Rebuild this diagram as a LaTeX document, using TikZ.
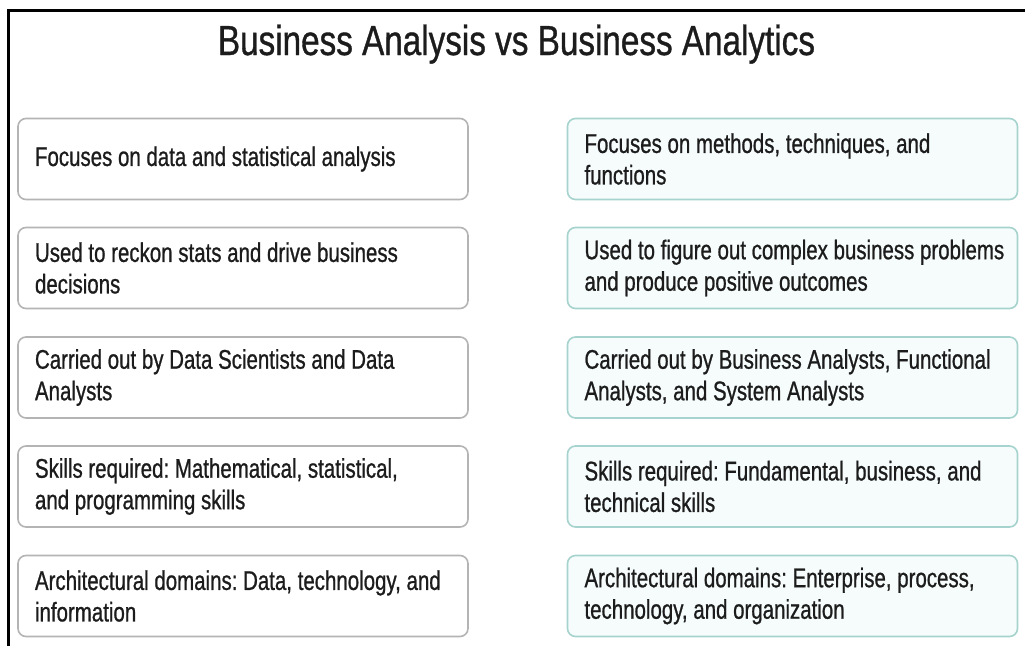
\documentclass[tikz,border=0pt]{standalone}
\usepackage{fontspec}
\setmainfont{Liberation Sans}
\newfontfamily\bodyfont[FakeStretch=0.758,FakeBold=0.8]{Liberation Sans}
\newfontfamily\titlefont[FakeStretch=0.792,FakeBold=0.8]{Liberation Sans}
\definecolor{leftborder}{HTML}{B4B4B4}
\definecolor{rightborder}{HTML}{A6D3CE}
\definecolor{rightfill}{HTML}{F6FCFC}
\definecolor{txt}{HTML}{1C1C1C}
\newcommand{\oneln}[1]{\mbox{\spaceskip=0pt\xspaceskip=0pt\frenchspacing #1}}
\newcommand{\lns}[2]{\oneln{#1}\\\oneln{#2}}
\tikzset{
  cell/.style={rounded corners=8pt, line width=1.6pt, minimum height=81pt,
    text width=416pt, inner xsep=17pt, inner ysep=4pt, align=left,
    text=txt, font=\bodyfont\fontsize{27}{31.5}\selectfont},
  lcell/.style={cell, draw=leftborder, fill=white},
  rcell/.style={cell, draw=rightborder, fill=rightfill},
  frameline/.style={line width=3pt, black}
}
\begin{document}
\begin{tikzpicture}[x=1pt,y=-1pt]
\useasboundingbox (0,0) rectangle (1025,646);
\fill[white] (0,0) rectangle (1025,646);
\coordinate (fa) at (8.5,646);
\coordinate (fb) at (8.5,10);
\coordinate (fc) at (1025,10);
\draw[frameline] (fa) -- (fb) -- (fc);
\node[anchor=base, text=txt, font=\titlefont\fontsize{42}{48}\selectfont, inner sep=0pt] (title) at (516.5,55) {Business Analysis vs Business Analytics};
% left column
\node[lcell] (l1) at (243,159) {\oneln{Focuses on data and statistical analysis}};
\node[lcell] (l2) at (243,268) {\lns{Used to reckon stats and drive business}{decisions}};
\node[lcell] (l3) at (243,377.5) {\lns{Carried out by Data Scientists and Data}{Analysts}};
\node[lcell] (l4) at (243,486.5) {\lns{Skills required: Mathematical, statistical,}{and programming skills}};
\node[lcell] (l5) at (243,596) {\lns{Architectural domains: Data, technology, and}{information}};
% right column
\node[rcell] (r1) at (792.5,159) {\lns{Focuses on methods, techniques, and}{functions}};
\node[rcell] (r2) at (792.5,268) {\lns{Used to figure out complex business problems}{and produce positive outcomes}};
\node[rcell] (r3) at (792.5,377.5) {\lns{Carried out by Business Analysts, Functional}{Analysts, and System Analysts}};
\node[rcell] (r4) at (792.5,486.5) {\lns{Skills required: Fundamental, business, and}{technical skills}};
\node[rcell] (r5) at (792.5,596) {\lns{Architectural domains: Enterprise, process,}{technology, and organization}};
\end{tikzpicture}
\end{document}
